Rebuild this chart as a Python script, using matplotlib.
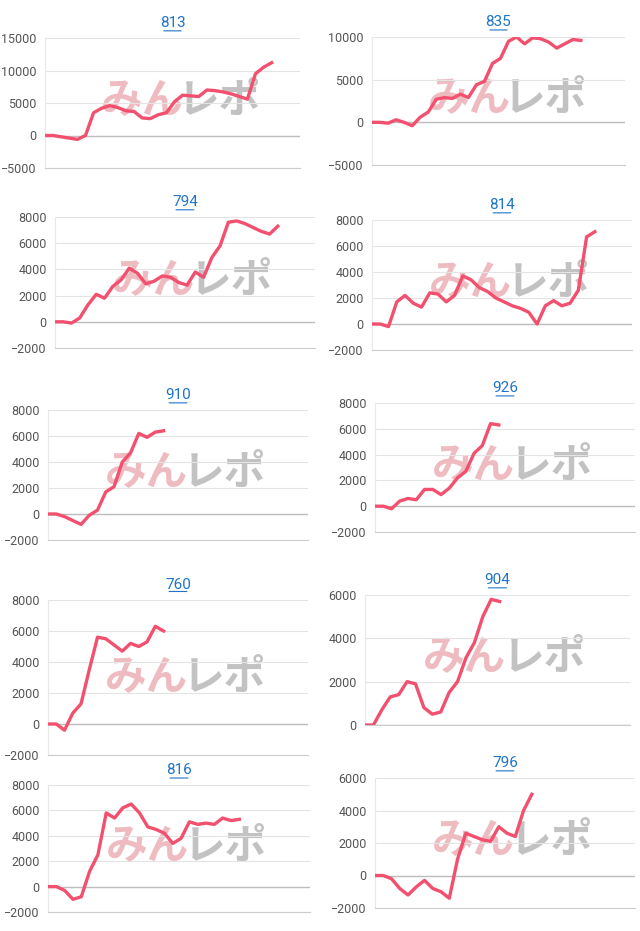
import matplotlib
matplotlib.use("Agg")
import matplotlib.pyplot as plt
from matplotlib.font_manager import FontProperties

plt.rcParams['font.family'] = ['Roboto', 'DejaVu Sans']

names = ["813", "835", "794", "814", "910", "926", "760", "904", "816", "796"]
v813 = [0, 0, -200, -400, -600, 0, 3500, 4200, 4600, 4300, 3800, 3700, 2700, 2600,
        3200, 3500, 5200, 6200, 6100, 6000, 7000, 6900, 6700, 6400, 6000, 5600, 9500, 10500, 11200]
v835 = [0, 0, -100, 300, 0, -400, 600, 1200, 2700, 2900, 2800, 3300, 2900, 4400, 4800,
        6900, 7500, 9500, 10000, 9200, 9900, 9800, 9400, 8700, 9200, 9700, 9600]
v794 = [0, 0, -100, 300, 1300, 2100, 1800, 2700, 3200, 4100, 3700, 2900, 3100, 3500, 3400,
        3000, 2800, 3800, 3400, 4900, 5800, 7600, 7700, 7500, 7200, 6900, 6700, 7300]
v814 = [0, 0, -200, 1700, 2200, 1600, 1300, 2400, 2300, 1700, 2200, 3700, 3400, 2800, 2500,
        2000, 1700, 1400, 1200, 900, 0, 1400, 1800, 1400, 1600, 2600, 6700, 7100]
v910 = [0, 0, -200, -500, -800, -100, 300, 1700, 2100, 4000, 4700, 6200, 5900, 6300, 6400]
v926 = [0, 0, -200, 400, 600, 500, 1300, 1300, 900, 1400, 2200, 2700, 4100, 4700, 6400, 6300]
v760 = [0, 0, -400, 700, 1300, 3500, 5600, 5500, 5100, 4700, 5200, 5000, 5300, 6300, 6000]
v904 = [0, 0, 700, 1300, 1400, 2000, 1900, 800, 500, 600, 1500, 2000, 3100, 3800, 5000, 5800, 5700]
v816 = [0, 0, -300, -1000, -800, 1200, 2500, 5800, 5400, 6200, 6500, 5800, 4700, 4500, 4200,
        3400, 3800, 5100, 4900, 5000, 4900, 5400, 5200, 5300]
v796 = [0, 0, -200, -800, -1200, -700, -300, -800, -1000, -1400, 1000, 2600, 2400, 2200,
        2100, 3000, 2600, 2400, 4000, 5000]
series = [v813, v835, v794, v814, v910, v926, v760, v904, v816, v796]
yranges = [(-5000, 15000, 5000), (-5000, 10000, 5000), (-2000, 8000, 2000), (-2000, 8000, 2000),
           (-2000, 8000, 2000), (-2000, 8000, 2000), (-2000, 8000, 2000), (0, 6000, 2000),
           (-2000, 8000, 2000), (-2000, 6000, 2000)]
# pixel boxes: left, top, right, bottom
boxes = [(45, 38, 300, 168), (372, 37, 625, 165), (55, 217, 315, 348), (372, 220, 632, 350),
         (48, 410, 308, 540), (375, 403, 635, 532), (48, 600, 308, 755), (365, 595, 630, 725),
         (48, 785, 310, 912), (375, 778, 635, 908)]

W, H = 640, 931
fig = plt.figure(figsize=(6.4, 9.31), dpi=100)
for name, vals, (lo, hi, st), (l, t, r, b) in zip(names, series, yranges, boxes):
    ax = fig.add_axes([l / W, 1 - b / H, (r - l) / W, (b - t) / H])
    ax.plot(range(len(vals)), vals, color='#f2506e', lw=2.4, zorder=3)
    ax.set_xlim(0, 31.5)
    ax.set_ylim(lo, hi)
    ax.set_yticks(range(lo, hi + 1, st))
    ax.set_xticks([])
    ax.grid(axis='y', color='#e4e4e4', lw=0.8)
    ax.axhline(0, color='#bdbdbd', lw=1, zorder=2)
    for s in ['top', 'right']:
        ax.spines[s].set_visible(False)
    ax.spines['bottom'].set_color('#cccccc')
    ax.spines['left'].set_color('#e8e8e8')
    ax.tick_params(axis='y', length=0, labelsize=9, colors='#555555', pad=6)
    ax.set_title(name, color='#1f74c9', pad=8,
                 fontproperties=FontProperties(family='Roboto', size=11))
    # underline under title
    ax.annotate('', xy=(0.455, 1.055), xytext=(0.545, 1.055), xycoords='axes fraction',
                arrowprops=dict(arrowstyle='-', color='#1f74c9', lw=0.8))
    # watermark
    ax.text(0.22, 0.42, 'みん', transform=ax.transAxes, fontsize=30, fontweight='bold',
            style='italic', color='#e8a0a6', alpha=0.7, family='Noto Sans CJK JP', zorder=1)
    ax.text(0.52, 0.42, 'レポ', transform=ax.transAxes, fontsize=30, fontweight='bold',
            style='italic', color='#a8a8a8', alpha=0.7, family='Noto Sans CJK JP', zorder=1)

fig.savefig('out.png')
